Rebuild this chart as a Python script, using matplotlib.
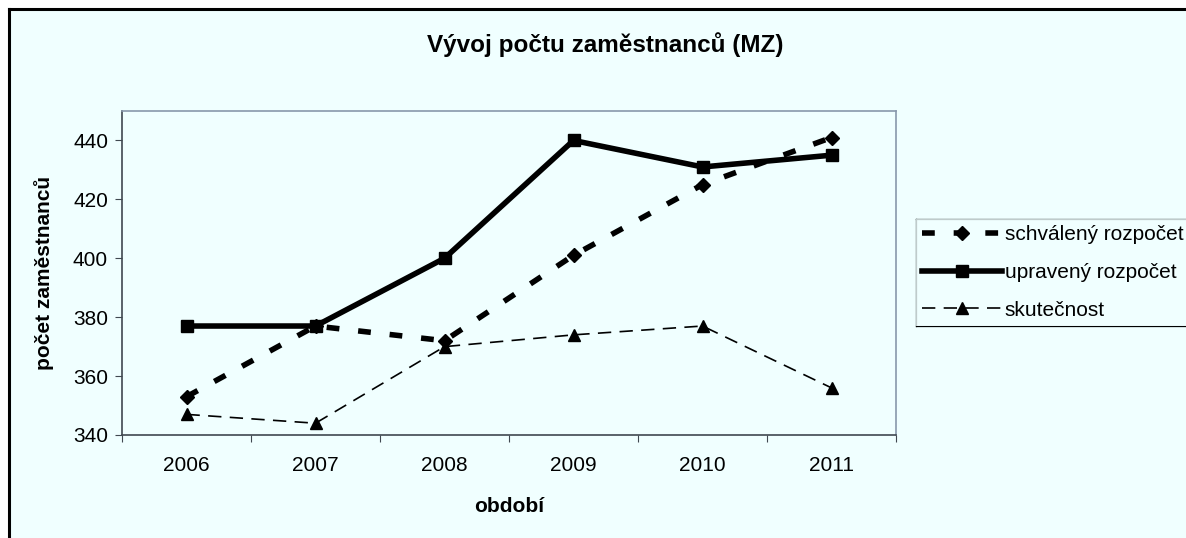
import matplotlib
matplotlib.use("Agg")
import matplotlib.pyplot as plt
from matplotlib.patches import Rectangle
from matplotlib.lines import Line2D

# DATA
roky = ["2006", "2007", "2008", "2009", "2010", "2011"]
schvaleny = [353, 377, 372, 401, 425, 441]
upraveny = [377, 377, 400, 440, 431, 435]
skutecnost = [347, 344, 370, 374, 377, 356]

plt.rcParams["font.family"] = ["Liberation Sans", "DejaVu Sans"]

W, H = 1186, 538
fig = plt.figure(figsize=(W / 100, H / 100), dpi=100)
fig.patch.set_facecolor("white")

# pozadí grafu + levá a horní hrana rámečku
bx, by = 9 / W, 1 - 9 / H
fig.patches.append(Rectangle((bx, 0), 1 - bx, by, transform=fig.transFigure,
                             facecolor="#F0FFFF", edgecolor="none", zorder=-10))
fig.lines.append(Line2D([bx, bx], [0, by], transform=fig.transFigure,
                        color="black", lw=2.2, solid_capstyle="projecting"))
fig.lines.append(Line2D([bx, 1], [by, by], transform=fig.transFigure,
                        color="black", lw=2.2, solid_capstyle="projecting"))

ax = fig.add_axes([122 / W, 1 - 435 / H, (896 - 122) / W, (435 - 111) / H])
ax.set_facecolor("#F0FFFF")

x = list(range(len(roky)))
ax.plot(x, schvaleny, color="black", lw=4, linestyle=(0, (2.3, 3.4)),
        marker="D", markersize=7.5, label="schválený rozpočet", zorder=3)
ax.plot(x, upraveny, color="black", lw=4, linestyle="-",
        marker="s", markersize=8, label="upravený rozpočet", zorder=4)
ax.plot(x, skutecnost, color="black", lw=1.2, linestyle=(0, (8, 5)),
        marker="^", markersize=9, label="skutečnost", zorder=5)

ax.set_xlim(-0.5, len(roky) - 0.5)
ax.set_ylim(340, 450)
ax.set_yticks(range(340, 441, 20))
ax.set_xticks([i - 0.5 for i in range(len(roky) + 1)])
ax.set_xticklabels([])
ax.set_xticks(x, minor=True)
ax.set_xticklabels(roky, minor=True)
ax.tick_params(axis="x", which="minor", length=0, pad=15, labelsize=15)
ax.tick_params(axis="x", which="major", length=5, direction="out", color="#404850")
ax.tick_params(axis="y", length=5, direction="out", labelsize=15, pad=5, color="#404850")

for s in ["top", "right"]:
    ax.spines[s].set_color("#8898AC")
    ax.spines[s].set_linewidth(1.2)
for s in ["left", "bottom"]:
    ax.spines[s].set_color("#404850")
    ax.spines[s].set_linewidth(1.2)

ax.set_xlabel("období", fontsize=15, fontweight="bold", labelpad=16)
ax.set_ylabel("počet zaměstnanců", fontsize=15, fontweight="bold", labelpad=14)

fig.text(605 / W, 1 - 45 / H, "Vývoj počtu zaměstnanců (MZ)", ha="center", va="center",
         fontsize=17.5, fontweight="bold")

leg = fig.legend(loc="upper left", bbox_to_anchor=(916 / W, 1 - 219 / H),
                 bbox_transform=fig.transFigure, fontsize=15, frameon=True,
                 fancybox=False, handlelength=3.85, handletextpad=0.1,
                 borderpad=0.3, labelspacing=0.9, borderaxespad=0)
leg.get_frame().set_edgecolor("none")
leg.get_frame().set_facecolor("#F0FFFF")

# rámeček legendy - vpravo useknutý okrajem obrázku
fig.canvas.draw()
bb = leg.get_window_extent()
x0, y0, y1 = bb.x0 / W, bb.y0 / H, bb.y1 / H
for xs, ys in [([x0, x0], [y0, y1]), ([x0, 1.01], [y1, y1]), ([x0, 1.01], [y0, y0])]:
    fig.lines.append(Line2D(xs, ys, transform=fig.transFigure, color="black", lw=0.9))

fig.savefig("out.png", dpi=100)
